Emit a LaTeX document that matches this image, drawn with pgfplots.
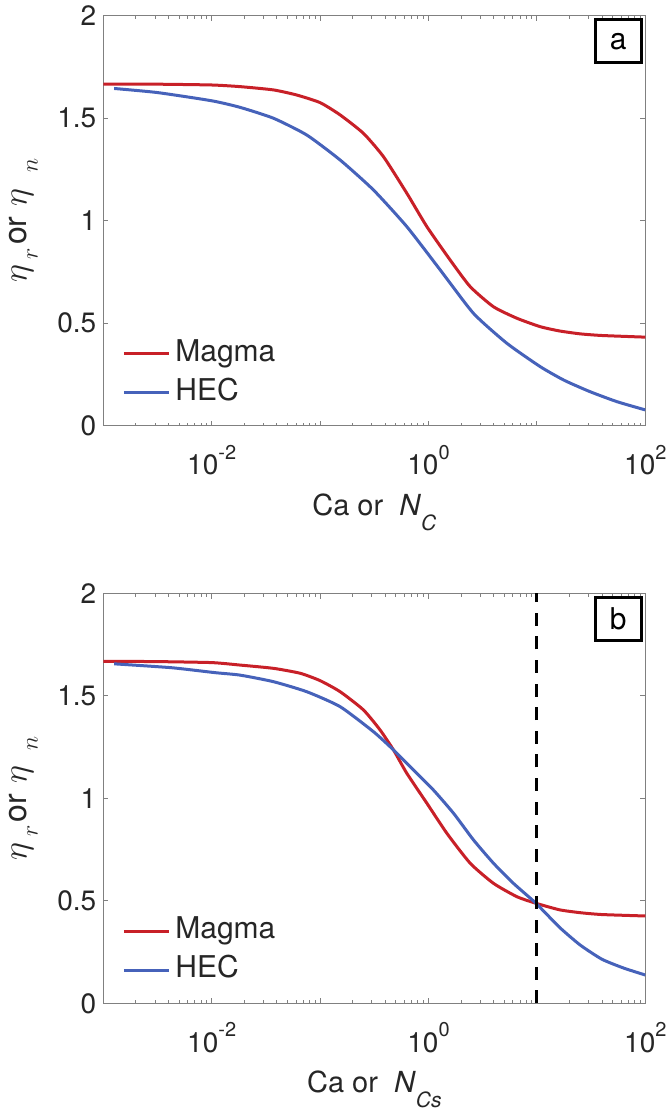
\documentclass[border=0pt]{standalone}
\usepackage{pgfplots}
\pgfplotsset{compat=1.18}
\usepackage{fontspec}
\setmainfont{TeX Gyre Heros}

\definecolor{magma}{RGB}{200,32,40}
\definecolor{hec}{RGB}{70,98,186}
\definecolor{axgray}{RGB}{128,128,128}
\definecolor{txt}{RGB}{38,38,38}

\newcommand{\expo}[1]{\raisebox{0.55em}{\fontsize{10}{10}\selectfont #1}}
\newcommand{\lowsub}[1]{\raisebox{-5.5pt}{\fontsize{12}{12}\selectfont$#1$}}

\pgfplotsset{
  panel/.style={
    scale only axis, width=271pt, height=205pt,
    xmin=1e-3, xmax=100, ymin=0, ymax=2,
    xtick={1e-3,1e-2,1e-1,1,10,100},
    xticklabels={,10\expo{-2},,10\expo{0},,10\expo{2}},
    minor xtick={2e-3,3e-3,4e-3,5e-3,6e-3,7e-3,8e-3,9e-3,
                 2e-2,3e-2,4e-2,5e-2,6e-2,7e-2,8e-2,9e-2,
                 0.2,0.3,0.4,0.5,0.6,0.7,0.8,0.9,
                 2,3,4,5,6,7,8,9,
                 20,30,40,50,60,70,80,90},
    ytick={0,0.5,1,1.5,2},
    /pgf/number format/assume math mode=true,
    tick align=inside,
    major tick length=2.6pt, minor tick length=1.6pt,
    axis line style={axgray, line width=0.5pt},
    every tick/.style={axgray, line width=0.5pt},
    tick label style={font=\fontsize{14}{14}\selectfont, text=txt},
    xticklabel style={anchor=base, yshift=-24.5pt},
    ylabel={$\eta$\kern3pt\lowsub{r}\kern1.5pt or\kern5pt$\eta$\kern8pt\lowsub{n}},
    ylabel style={at={(axis description cs:-0.147,0.5)}, anchor=center,
      font=\fontsize{16}{16}\selectfont, text=txt},
    xlabel style={at={(axis description cs:0.5,-0.218)}, anchor=base,
      font=\fontsize{14.5}{14.5}\selectfont, text=txt},
    legend image code/.code={\draw[##1] (0pt,0pt) -- (22.5pt,0pt);},
    legend cell align=left,
    legend style={draw=none, fill=none, inner sep=0pt,
      at={(axis description cs:0.0345,0.2116)}, anchor=north west,
      font=\fontsize{15}{15}\selectfont, text=txt,
      nodes={inner sep=0pt, text height=11pt, text depth=3.5pt},
      column sep=2.5pt, row sep=5pt},
    every axis plot/.append style={line width=1.5pt, smooth, tension=0.35},
  }
}

\begin{document}
\begin{tikzpicture}
\useasboundingbox (0pt,0pt) rectangle (336pt,-556pt);

\begin{semilogxaxis}[panel, at={(51.65pt,-212.85pt)}, anchor=south west,
  xlabel={Ca or\ \ \textit{N}\raisebox{-7.5pt}{\fontsize{10.5}{10.5}\selectfont\textit{C}}}]
\addplot[magma] coordinates {
(0.001,1.666) (0.003,1.666) (0.01,1.662) (0.01824,1.654) (0.03707,1.638)
(0.06095,1.613) (0.1,1.576) (0.1531,1.516) (0.2512,1.426) (0.3846,1.312)
(0.631,1.134) (0.966,0.971) (1.585,0.808) (2.427,0.678) (3.981,0.580)
(6.546,0.524) (10.74,0.483) (16.22,0.462) (25.12,0.448) (39.81,0.440)
(100,0.432)};
\addlegendentry{Magma}
\addplot[hec] coordinates {
(0.001259,1.645) (0.003162,1.625) (0.01,1.585) (0.01824,1.553) (0.03707,1.500)
(0.07534,1.418) (0.1531,1.296) (0.3105,1.150) (0.631,0.971) (1.282,0.760)
(2.600,0.548) (5.284,0.402) (10.74,0.288) (17.78,0.222) (30.9,0.166)
(54.95,0.117) (100,0.077)};
\addlegendentry{HEC}
\node[draw=black, fill=white, line width=1.5pt, minimum width=23pt,
  minimum height=21.5pt, inner sep=0pt, anchor=north east,
  font=\fontsize{15}{15}\selectfont] at ([xshift=-1.25pt,yshift=-1.4pt]rel axis cs:1,1) {a};
\end{semilogxaxis}

\begin{semilogxaxis}[panel, at={(51.65pt,-501.65pt)}, anchor=south west,
  xlabel={Ca or\ \ \textit{N}\raisebox{-7.5pt}{\fontsize{10.5}{10.5}\selectfont\textit{Cs}}}]
\addplot[magma] coordinates {
(0.001,1.668) (0.003,1.667) (0.01,1.662) (0.01824,1.650) (0.03707,1.634)
(0.06546,1.610) (0.1,1.574) (0.1531,1.520) (0.2512,1.431) (0.3581,1.333)
(0.4753,1.236) (0.631,1.122) (0.966,0.976) (1.479,0.829) (2.427,0.683)
(3.981,0.585) (6.546,0.520) (9.795,0.488) (16.22,0.456) (25.12,0.442)
(39.81,0.433) (100,0.426)};
\addlegendentry{Magma}
\addplot[hec] coordinates {
(0.001259,1.656) (0.004266,1.637) (0.01072,1.613) (0.01824,1.601) (0.03707,1.569)
(0.07534,1.520) (0.1531,1.447) (0.3105,1.325) (0.4753,1.236) (0.7261,1.138)
(1.112,1.040) (1.702,0.927) (2.600,0.797) (3.981,0.683) (6.081,0.585)
(9.795,0.488) (16.22,0.370) (25.12,0.284) (39.81,0.215) (63.1,0.172) (100,0.138)};
\addlegendentry{HEC}
\addplot[black, sharp plot, dash pattern=on 6.5pt off 5.3pt, forget plot]
  coordinates {(10,0) (10,2)};
\node[draw=black, fill=white, line width=1.5pt, minimum width=23pt,
  minimum height=21.5pt, inner sep=0pt, anchor=north east,
  font=\fontsize{15}{15}\selectfont] at ([xshift=-1.25pt,yshift=-1.4pt]rel axis cs:1,1) {b};
\end{semilogxaxis}
\end{tikzpicture}
\end{document}
